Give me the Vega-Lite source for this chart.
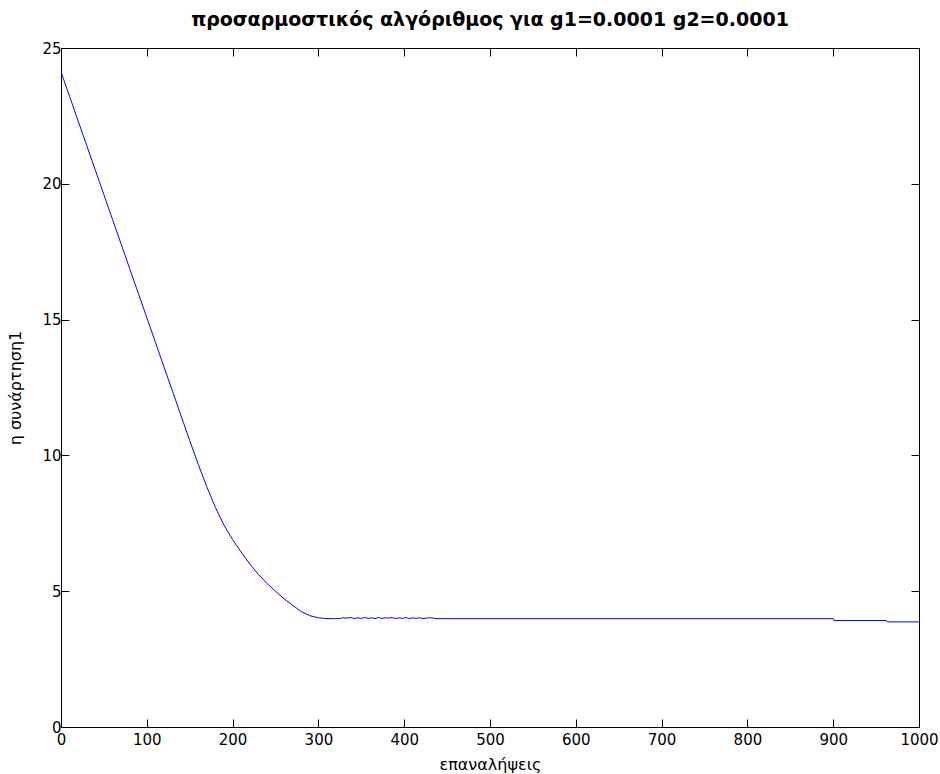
{
  "$schema": "https://vega.github.io/schema/vega-lite/v6.json",
  "width": 858,
  "height": 679,
  "autosize": {"type": "none"},
  "padding": {"left": 61, "top": 48, "right": 21, "bottom": 47},
  "background": "white",
  "config": {
    "view": {"stroke": "black", "strokeWidth": 1},
    "font": "DejaVu Sans",
    "axis": {
      "grid": false,
      "domainColor": "black",
      "tickColor": "black",
      "labelColor": "black",
      "titleColor": "black",
      "labelFont": "DejaVu Sans",
      "titleFont": "DejaVu Sans",
      "labelFontSize": 15,
      "titleFontSize": 16,
      "titleFontWeight": "normal",
      "labelFlush": false,
      "labelOverlap": false,
      "tickSize": -8,
      "domainWidth": 1,
      "tickWidth": 1
    }
  },
  "title": {
    "text": "προσαρμοστικός αλγόριθμος για g1=0.0001 g2=0.0001",
    "font": "DejaVu Sans",
    "fontSize": 19,
    "fontWeight": "bold",
    "color": "black",
    "anchor": "middle",
    "baseline": "alphabetic",
    "offset": -4
  },
  "data": {
    "values": [
      {"n": 0, "v": 24.12}, {"n": 10, "v": 23.22}, {"n": 20, "v": 22.31}, {"n": 30, "v": 21.41},
      {"n": 40, "v": 20.5}, {"n": 50, "v": 19.6}, {"n": 60, "v": 18.69}, {"n": 70, "v": 17.79},
      {"n": 80, "v": 16.88}, {"n": 90, "v": 15.98}, {"n": 100, "v": 15.07}, {"n": 110, "v": 14.17},
      {"n": 120, "v": 13.26}, {"n": 130, "v": 12.36}, {"n": 140, "v": 11.45}, {"n": 150, "v": 10.55},
      {"n": 160, "v": 9.67}, {"n": 170, "v": 8.84}, {"n": 180, "v": 8.08}, {"n": 190, "v": 7.43},
      {"n": 200, "v": 6.9}, {"n": 210, "v": 6.44}, {"n": 220, "v": 6.0}, {"n": 230, "v": 5.62},
      {"n": 240, "v": 5.29}, {"n": 250, "v": 5.0}, {"n": 260, "v": 4.72}, {"n": 270, "v": 4.48},
      {"n": 280, "v": 4.25}, {"n": 290, "v": 4.1}, {"n": 300, "v": 4.02}, {"n": 310, "v": 3.99},
      {"n": 320, "v": 3.99}, {"n": 325, "v": 3.99}, {"n": 328, "v": 4.02}, {"n": 333, "v": 4.01},
      {"n": 338, "v": 4.03}, {"n": 342, "v": 3.99}, {"n": 346, "v": 4.02}, {"n": 350, "v": 4.0},
      {"n": 354, "v": 4.03}, {"n": 358, "v": 4.0}, {"n": 362, "v": 4.02}, {"n": 366, "v": 3.99},
      {"n": 370, "v": 4.03}, {"n": 374, "v": 4.0}, {"n": 378, "v": 4.02}, {"n": 382, "v": 4.01},
      {"n": 386, "v": 4.03}, {"n": 390, "v": 3.99}, {"n": 394, "v": 4.02}, {"n": 398, "v": 4.0},
      {"n": 402, "v": 4.03}, {"n": 406, "v": 3.99}, {"n": 410, "v": 4.02}, {"n": 414, "v": 4.0},
      {"n": 418, "v": 4.02}, {"n": 422, "v": 3.99}, {"n": 426, "v": 4.01}, {"n": 430, "v": 4.02},
      {"n": 434, "v": 4.01}, {"n": 437, "v": 3.99}, {"n": 900, "v": 3.99}, {"n": 901, "v": 3.92},
      {"n": 962, "v": 3.92}, {"n": 963, "v": 3.87}, {"n": 1000, "v": 3.87}
    ]
  },
  "layer": [
    {
      "mark": {"type": "line", "color": "#0000ff", "strokeWidth": 1, "clip": true},
      "encoding": {
        "x": {
          "field": "n", "type": "quantitative",
          "scale": {"domain": [0, 1000], "nice": false, "zero": false},
          "axis": {"values": [0,100,200,300,400,500,600,700,800,900,1000], "format": "d", "title": "επαναλήψεις", "labelPadding": 13, "titlePadding": 9}
        },
        "y": {
          "field": "v", "type": "quantitative",
          "scale": {"domain": [0, 25], "nice": false, "zero": false},
          "axis": {"values": [0,5,10,15,20,25], "format": "d", "title": "η συνάρτηση1", "labelPadding": 8, "titlePadding": 18}
        }
      }
    },
    {
      "mark": {"type": "line", "opacity": 0},
      "encoding": {
        "x": {
          "field": "n", "type": "quantitative",
          "scale": {"domain": [0, 1000], "nice": false, "zero": false},
          "axis": {"orient": "top", "values": [0,100,200,300,400,500,600,700,800,900,1000], "labels": false, "title": null}
        },
        "y": {
          "field": "v", "type": "quantitative",
          "scale": {"domain": [0, 25], "nice": false, "zero": false},
          "axis": {"orient": "right", "values": [0,5,10,15,20,25], "labels": false, "title": null}
        }
      }
    }
  ],
  "resolve": {"axis": {"x": "independent", "y": "independent"}}
}
